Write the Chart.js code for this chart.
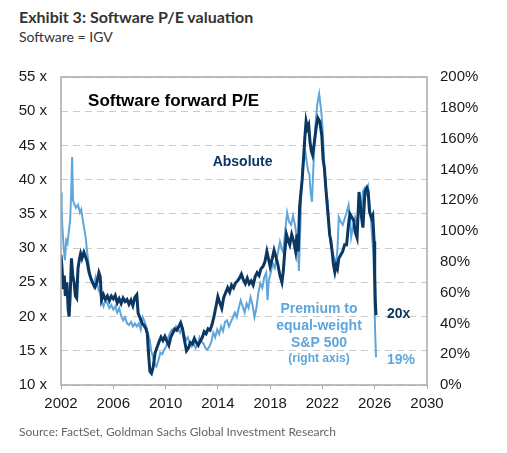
<!DOCTYPE html>
<html>
<head>
<meta charset="utf-8">
<script src="https://cdn.jsdelivr.net/npm/chart.js@4.4.1/dist/chart.umd.min.js"></script>
<style>
  html, body { margin: 0; padding: 0; background: #fff; }
  #wrap { position: relative; width: 507px; height: 453px; overflow: hidden; }
  #myChart { position: absolute; left: 0; top: 0; }
  .txt { position: absolute; left: 19px; white-space: nowrap; }
  #title { top: 7px; font: bold 16px Lato, sans-serif; color: #333; }
  #subtitle { top: 28px; font: 14px Lato, sans-serif; color: #333; }
  #source { top: 424px; font: 12px Lato, sans-serif; color: #666; }
</style>
</head>
<body>
<div id="wrap">
  <div id="title" class="txt">Exhibit 3: Software P/E valuation</div>
  <div id="subtitle" class="txt">Software = IGV</div>
  <canvas id="myChart" width="507" height="453"></canvas>
  <div id="source" class="txt">Source: FactSet, Goldman Sachs Global Investment Research</div>
</div>
<script>
// Software forward P/E, absolute (left axis, x)
var absYears = [2002.0, 2002.08, 2002.17, 2002.25, 2002.33, 2002.45, 2002.55, 2002.62, 2002.7, 2002.8, 2002.9,
  2003.0, 2003.1, 2003.2, 2003.3, 2003.4, 2003.5, 2003.6, 2003.75, 2003.9, 2004.0, 2004.15, 2004.3, 2004.45,
  2004.6, 2004.75, 2004.9, 2005.0, 2005.1, 2005.25, 2005.4, 2005.55, 2005.7, 2005.85, 2006.0, 2006.15, 2006.3,
  2006.45, 2006.6, 2006.75, 2006.9, 2007.05, 2007.2, 2007.35, 2007.5, 2007.65, 2007.8, 2007.9, 2008.05, 2008.2,
  2008.35, 2008.5, 2008.6, 2008.7, 2008.8, 2008.92, 2009.05, 2009.2, 2009.35, 2009.5, 2009.65, 2009.8, 2009.95,
  2010.1, 2010.25, 2010.4, 2010.55, 2010.7, 2010.85, 2011.0, 2011.15, 2011.3, 2011.45, 2011.6, 2011.75, 2011.9,
  2012.05, 2012.2, 2012.35, 2012.5, 2012.65, 2012.8, 2012.95, 2013.1, 2013.25, 2013.4, 2013.55, 2013.7, 2013.85,
  2014.0, 2014.15, 2014.3, 2014.45, 2014.6, 2014.75, 2014.9, 2015.05, 2015.2, 2015.35, 2015.5, 2015.65, 2015.8,
  2015.95, 2016.1, 2016.25, 2016.4, 2016.55, 2016.7, 2016.85, 2017.0, 2017.15, 2017.3, 2017.45, 2017.6, 2017.75,
  2017.9, 2018.0, 2018.15, 2018.3, 2018.45, 2018.6, 2018.75, 2018.9, 2019.0, 2019.1, 2019.25, 2019.4, 2019.5,
  2019.65, 2019.8, 2019.95, 2020.05, 2020.15, 2020.25, 2020.35, 2020.45, 2020.55, 2020.65, 2020.75, 2020.85,
  2020.95, 2021.05, 2021.15, 2021.25, 2021.35, 2021.45, 2021.55, 2021.65, 2021.8, 2021.95, 2022.05, 2022.15,
  2022.25, 2022.35, 2022.45, 2022.55, 2022.65, 2022.75, 2022.85, 2022.95, 2023.05, 2023.15, 2023.25, 2023.4,
  2023.55, 2023.7, 2023.85, 2024.0, 2024.1, 2024.25, 2024.4, 2024.5, 2024.65, 2024.8, 2024.92, 2025.0, 2025.1,
  2025.25, 2025.4, 2025.5, 2025.6, 2025.75, 2025.85, 2025.95, 2026.0, 2026.05, 2026.1];
var absValues = [29, 27, 24, 26, 23, 25, 21, 20, 23, 28.5, 26,
  25, 23, 22.7, 27, 28.3, 29.2, 28.5, 29.4, 28.6, 28, 26.4, 25.5, 24.8,
  24.3, 25, 26.4, 25.8, 22.4, 23.2, 22.5, 23, 22.3, 23, 22.6, 23.1, 22,
  22.6, 21.9, 22.7, 22.2, 22.5, 21.8, 22.4, 21.6, 22.8, 23.2, 20.5, 19.8, 19,
  18.7, 18.2, 17.5, 14.5, 12, 11.7, 12.6, 14.7, 15.5, 16.3, 17, 16.5, 17.1,
  16.4, 15.8, 17, 17.6, 18.2, 18, 18.5, 19.1, 18.2, 16.5, 15, 15.4, 16.2,
  16, 16.8, 16.2, 15.8, 16.4, 16.9, 17.8, 17.5, 18.2, 18, 18.8, 20, 21.4,
  22.9, 22, 21.2, 22.8, 23.5, 24.2, 23.6, 24.6, 24.2, 24.9, 25.2, 25.6, 26.2,
  25.4, 24.8, 25.6, 24.8, 25.2, 24.6, 25.8, 26.4, 26, 27, 27.3, 28, 29.5,
  28.2, 27.3, 28.4, 29.7, 28.7, 27.5, 26, 25, 26.5, 29, 32, 31, 30.5,
  32, 31, 29.5, 32, 29.5, 36, 38, 40, 43, 46, 48.5, 47.5,
  48, 45.5, 44.2, 43.6, 45, 46.5, 48, 49, 48.5, 46.5, 43, 41.7,
  39, 36.7, 34.4, 32, 31, 29.4, 27.5, 26.5, 27.5, 27, 28.5, 29,
  29.5, 30.5, 30.5, 33.5, 35, 34.5, 34, 32.4, 31.5, 38.2, 36, 34.4, 33,
  38.2, 38.8, 38.2, 35.3, 34.4, 34.8, 31, 26, 22, 20.2];

// Premium to equal-weight S&P 500 (right axis, %)
var premYears = [2002.0, 2002.05, 2002.1, 2002.2, 2002.3, 2002.4, 2002.5, 2002.6, 2002.7, 2002.78, 2002.85, 2002.92,
  2003.0, 2003.15, 2003.3, 2003.45, 2003.55, 2003.65, 2003.75, 2003.9, 2004.0, 2004.1, 2004.2, 2004.35, 2004.5,
  2004.65, 2004.75, 2004.9, 2005.0, 2005.1, 2005.25, 2005.4, 2005.55, 2005.7, 2005.85, 2006.0, 2006.15, 2006.3,
  2006.45, 2006.6, 2006.75, 2006.9, 2007.05, 2007.2, 2007.35, 2007.5, 2007.65, 2007.8, 2007.95, 2008.1, 2008.25,
  2008.4, 2008.55, 2008.7, 2008.8, 2008.9, 2009.05, 2009.2, 2009.3, 2009.45, 2009.6, 2009.75, 2009.9, 2010.05,
  2010.2, 2010.35, 2010.5, 2010.65, 2010.8, 2010.95, 2011.1, 2011.25, 2011.4, 2011.55, 2011.7, 2011.85, 2012.0,
  2012.15, 2012.3, 2012.45, 2012.6, 2012.75, 2012.9, 2013.05, 2013.2, 2013.35, 2013.5, 2013.65, 2013.8, 2013.95,
  2014.1, 2014.25, 2014.4, 2014.55, 2014.7, 2014.85, 2015.0, 2015.15, 2015.3, 2015.45, 2015.6, 2015.75, 2015.9,
  2016.05, 2016.2, 2016.35, 2016.5, 2016.65, 2016.8, 2016.95, 2017.1, 2017.25, 2017.4, 2017.55, 2017.7, 2017.8,
  2017.9, 2018.05, 2018.2, 2018.35, 2018.5, 2018.6, 2018.75, 2018.9, 2019.0, 2019.15, 2019.3, 2019.45, 2019.6,
  2019.75, 2019.9, 2020.0, 2020.1, 2020.2, 2020.3, 2020.4, 2020.5, 2020.6, 2020.7, 2020.8, 2020.9, 2021.0,
  2021.1, 2021.2, 2021.3, 2021.45, 2021.6, 2021.75, 2021.85, 2021.95, 2022.05, 2022.15, 2022.3, 2022.4, 2022.5,
  2022.6, 2022.75, 2022.9, 2023.05, 2023.15, 2023.25, 2023.4, 2023.55, 2023.7, 2023.85, 2024.0, 2024.1, 2024.2,
  2024.35, 2024.5, 2024.65, 2024.75, 2024.9, 2025.0, 2025.1, 2025.25, 2025.4, 2025.5, 2025.6, 2025.7, 2025.8,
  2025.9, 2025.97, 2026.03, 2026.1];
var premValues = [125, 115, 103, 90, 81, 94, 92, 100, 107, 125, 148, 120,
  118, 115, 117, 112, 114, 108, 103, 95, 86, 80, 73, 68, 64,
  70, 66, 61, 60, 55, 51, 55, 53, 50, 52, 49, 51, 47,
  50, 45, 42, 44, 40, 39, 41, 38, 40, 38, 40, 36, 44,
  41, 37, 32, 29, 22, 18, 13, 12, 16, 21, 20, 23, 25,
  31, 34, 36, 35, 38, 36, 34, 38, 33, 29, 31, 27, 25,
  27, 24, 26, 31, 28, 27, 24, 23, 25, 28, 34, 31, 36,
  33, 38, 35, 41, 42, 38, 41, 44, 47, 44, 50, 55, 51,
  47, 53, 50, 57, 52, 44, 50, 60, 66, 63, 70, 73, 55,
  68, 73, 79, 76, 83, 86, 93, 88, 86, 100, 112, 106, 104,
  110, 104, 98, 92, 74, 100, 130, 141, 146, 151, 145, 139, 137,
  125, 119, 140, 167, 182, 189, 182, 174, 160, 141, 125, 119, 105,
  93, 87, 82, 80, 88, 109, 106, 104, 108, 112, 117, 110, 96,
  103, 109, 105, 112, 117, 115, 126, 128, 124, 128, 118, 109, 96,
  86, 60, 35, 18];

var yearTicks = [2002, 2006, 2010, 2014, 2018, 2022, 2026, 2030];

var navy = '#0c3761';
var sky = '#5ea6dc';
var axisFont = { family: '"Liberation Sans", Arial, sans-serif', size: 15 };

function toPoints(xs, ys) {
    return xs.map((x, i) => ({ x: x, y: ys[i] }));
}

// plot frame + in-chart labels
const frameAndLabels = {
    id: 'frameAndLabels',
    afterDatasetsDraw(chart) {
        const c = chart.ctx;
        const a = chart.chartArea;
        const sx = chart.scales.x, sy = chart.scales.y;
        c.save();
        c.strokeStyle = '#a8a8a8';
        c.lineWidth = 1.5;
        c.strokeRect(a.left, a.top, a.right - a.left, a.bottom - a.top);

        c.textBaseline = 'middle';
        c.textAlign = 'left';
        c.fillStyle = '#000';
        c.font = 'bold 17px "Liberation Sans", Arial, sans-serif';
        c.fillText('Software forward P/E', sx.getPixelForValue(2004.07), sy.getPixelForValue(51.5));

        c.fillStyle = navy;
        c.font = 'bold 14px "Liberation Sans", Arial, sans-serif';
        c.fillText('Absolute', sx.getPixelForValue(2013.6), sy.getPixelForValue(42.5));
        c.fillText('20x', sx.getPixelForValue(2026.94), sy.getPixelForValue(20.4));

        c.fillStyle = sky;
        c.fillText('19%', sx.getPixelForValue(2026.94), sy.getPixelForValue(13.65));
        c.textAlign = 'center';
        const cx = sx.getPixelForValue(2021.74);
        c.fillText('Premium to', cx, sy.getPixelForValue(21.1));
        c.fillText('equal-weight', cx, sy.getPixelForValue(18.6));
        c.fillText('S&P 500', cx, sy.getPixelForValue(16.1));
        c.font = 'bold 12px "Liberation Sans", Arial, sans-serif';
        c.fillText('(right axis)', cx, sy.getPixelForValue(13.9));
        c.restore();
    }
};

var ctx = document.getElementById('myChart').getContext('2d');
var chart = new Chart(ctx, {
    type: 'line',
    data: {
        datasets: [{
            label: 'Absolute',
            data: toPoints(absYears, absValues),
            yAxisID: 'y',
            borderColor: navy,
            borderWidth: 3,
            pointRadius: 0,
            tension: 0
        }, {
            label: 'Premium to equal-weight S&P 500',
            data: toPoints(premYears, premValues),
            yAxisID: 'y1',
            borderColor: sky,
            borderWidth: 2,
            pointRadius: 0,
            tension: 0
        }]
    },
    options: {
        responsive: false,
        animation: false,
        layout: { padding: { top: 77, left: 0, right: 0, bottom: 0 } },
        plugins: {
            legend: { display: false },
            tooltip: { enabled: false }
        },
        scales: {
            x: {
                type: 'linear',
                min: 2002,
                max: 2030,
                afterBuildTicks: axis => { axis.ticks = yearTicks.map(v => ({ value: v })); },
                afterFit: axis => { axis.height = 68; },
                ticks: {
                    color: '#1a1a1a',
                    font: axisFont,
                    padding: 6,
                    maxRotation: 0,
                    callback: v => String(v)
                },
                grid: { drawOnChartArea: false, drawTicks: true, tickLength: 4, color: '#a8a8a8' },
                border: { display: false }
            },
            y: {
                position: 'left',
                min: 10,
                max: 55,
                afterFit: axis => { axis.width = 61; },
                ticks: {
                    stepSize: 5,
                    padding: 14,
                    color: '#1a1a1a',
                    font: axisFont,
                    callback: v => v + ' x'
                },
                grid: { color: '#cccccc', drawTicks: false, lineWidth: 1 },
                border: { display: false, dash: [7, 5] }
            },
            y1: {
                position: 'right',
                min: 0,
                max: 200,
                afterFit: axis => { axis.width = 80; },
                ticks: {
                    stepSize: 20,
                    padding: 13,
                    color: '#1a1a1a',
                    font: axisFont,
                    callback: v => v + '%'
                },
                grid: { display: false, drawTicks: false },
                border: { display: false }
            }
        }
    },
    plugins: [frameAndLabels]
});
</script>
</body>
</html>
